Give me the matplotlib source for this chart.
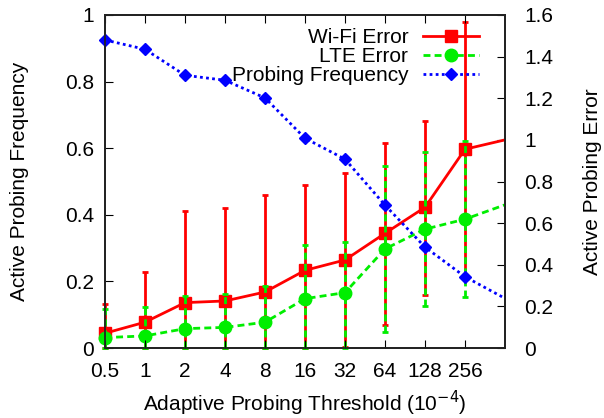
import numpy as np
import matplotlib
matplotlib.use("Agg")
import matplotlib.pyplot as plt
from matplotlib.lines import Line2D

plt.rcParams["font.family"] = ["Liberation Sans", "DejaVu Sans"]

# x categories (threshold, 1e-4)
thresholds = ["0.5", "1", "2", "4", "8", "16", "32", "64", "128", "256"]

# probing frequency (left axis), last value = where the line leaves the plot
freq = [0.925, 0.897, 0.819, 0.804, 0.751, 0.630, 0.567, 0.429, 0.303, 0.214, 0.149]

# errors (right axis), last value = value at right border
wifi = [0.071, 0.124, 0.218, 0.226, 0.269, 0.373, 0.423, 0.551, 0.676, 0.955, 1.0]
wifi_low = [0.0, 0.0, 0.0, 0.0, 0.0, 0.0, 0.006, 0.11, 0.255, 0.35]
wifi_high = [0.21, 0.367, 0.66, 0.675, 0.736, 0.785, 0.84, 0.987, 1.093, 1.567]

lte = [0.05, 0.058, 0.093, 0.099, 0.124, 0.237, 0.266, 0.476, 0.571, 0.619, 0.688]
lte_low = [0.0, 0.0, 0.0, 0.0, 0.0, 0.0, 0.0, 0.078, 0.2, 0.244]
lte_high = [0.1875, 0.196, 0.25, 0.258, 0.298, 0.495, 0.511, 0.875, 0.944, 0.995]

fs = 15
green = "#00ee00"
dash = (0, (2.5, 1.5))
dots = (0, (1, 1.2))
x = np.arange(len(freq))
xm = np.arange(len(thresholds))

fig = plt.figure(figsize=(6.04, 4.18), dpi=100)
ax = fig.add_axes([105 / 604, 1 - 348 / 418, 400 / 604, 333 / 418])
ax2 = ax.twinx()

# wifi error
ax2.plot(x, wifi, color="red", lw=2, zorder=3)
wy = np.array(wifi[:len(xm)])
eb = ax2.errorbar(xm, wy, yerr=[wy - np.array(wifi_low), np.array(wifi_high) - wy],
                  fmt="s", color="red", ms=8.5, ecolor="red", elinewidth=2,
                  capsize=2.2, capthick=2, zorder=4)
for a in eb.get_children():
    a.set_clip_on(False)

# lte error
ax2.plot(x, lte, color=green, lw=2, ls=dash, zorder=5)
ly = np.array(lte[:len(xm)])
eb2 = ax2.errorbar(xm, ly, yerr=[ly - np.array(lte_low), np.array(lte_high) - ly],
                   fmt="o", color=green, ms=9, ecolor=green, elinewidth=2,
                   capsize=2.2, capthick=2, zorder=6)
eb2[2][0].set_linestyle(dash)
for a in eb2.get_children():
    a.set_clip_on(False)

# probing frequency, drawn above errors
ax.set_zorder(ax2.get_zorder() + 1)
ax.patch.set_visible(False)
ax.plot(x, freq, color="blue", lw=2, ls=dots)
ax.plot(xm, freq[:len(xm)], "D", color="blue", ms=6, clip_on=False)

ax.set_xlim(0, 10)
ax.set_ylim(0, 1)
ax2.set_ylim(0, 1.6)
ax.set_xticks(xm)
ax.set_xticklabels(thresholds)
ax.set_yticks(np.arange(0, 1.01, 0.2))
ax.set_yticklabels(["0", "0.2", "0.4", "0.6", "0.8", "1"])
ax2.set_yticks(np.arange(0, 1.61, 0.2))
ax2.set_yticklabels(["0", "0.2", "0.4", "0.6", "0.8", "1", "1.2", "1.4", "1.6"])

ax.tick_params(axis="x", direction="in", top=True, length=6, labelsize=fs, pad=10)
ax.tick_params(axis="y", direction="in", length=6, labelsize=fs, pad=8)
ax2.tick_params(axis="y", direction="in", length=6, labelsize=fs, pad=14)
for a in (ax, ax2):
    for s in a.spines.values():
        s.set_linewidth(1.3)
        s.set_color("#222222")

ax.set_xlabel("Adaptive Probing Threshold (10$^{-4}$)", fontsize=fs, labelpad=6)
ax.set_ylabel("Active Probing Frequency", fontsize=fs, labelpad=26)
ax2.set_ylabel("Active Probing Error", fontsize=fs, labelpad=21)

handles = [
    Line2D([], [], color="red", lw=2, marker="s", ms=8.5),
    Line2D([], [], color=green, lw=2, ls=dash, marker="o", ms=9),
    Line2D([], [], color="blue", lw=2, ls=dots, marker="D", ms=6),
]
ax.legend(handles, ["Wi-Fi Error", "LTE Error", "Probing Frequency"], loc="upper right",
          bbox_to_anchor=(479 / 604, 1 - 28 / 418), bbox_transform=fig.transFigure,
          frameon=False, fontsize=fs, markerfirst=False, borderpad=0, borderaxespad=0,
          labelspacing=0.0, handlelength=2.7, handletextpad=0.7)

fig.savefig("out.png", dpi=100)
